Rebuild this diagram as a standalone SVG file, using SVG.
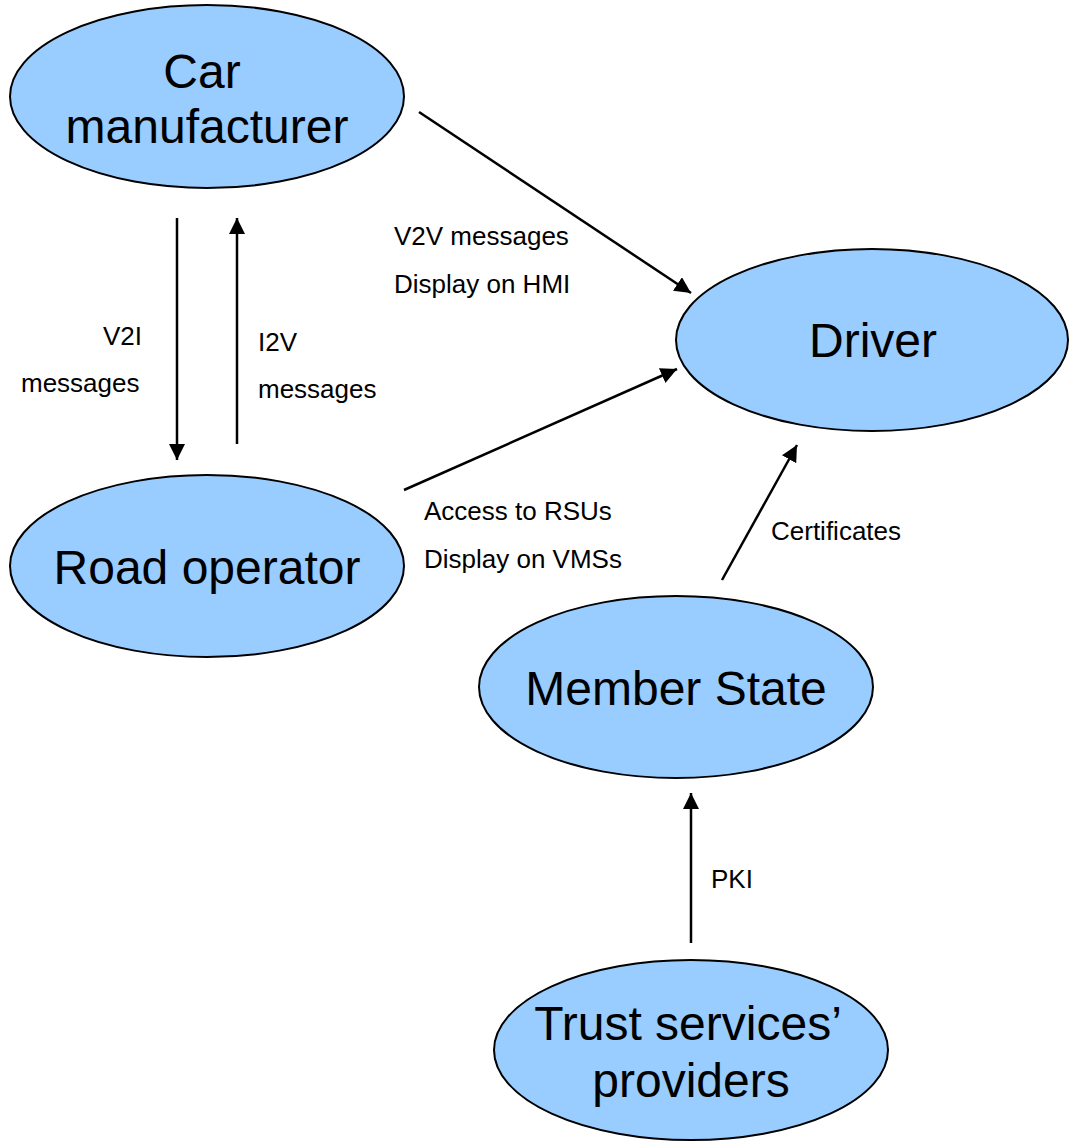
<svg xmlns="http://www.w3.org/2000/svg" width="1069" height="1144" viewBox="0 0 1069 1144">
  <style>
    .node ellipse { fill: #99CCFF; stroke: #000; stroke-width: 2; }
    .node text { font-family: "Liberation Sans", Arial, sans-serif; font-size: 48px; fill: #000; text-anchor: middle; }
    .edge line { stroke: #000; stroke-width: 2.5; marker-end: url(#arrow); }
    .label { font-family: "Liberation Sans", Arial, sans-serif; font-size: 26px; fill: #000; }
  </style>
  <defs>
    <marker id="arrow" viewBox="0 0 10 10" refX="10" refY="5" markerWidth="6.5" markerHeight="6.5" markerUnits="strokeWidth" orient="auto">
      <path d="M0,0 L10,5 L0,10 Z" fill="#000"/>
    </marker>
  </defs>
  <rect width="1069" height="1144" fill="#fff"/>

  <g id="connectors" class="edge">
    <line x1="177" y1="218" x2="177" y2="460"/>
    <line x1="237" y1="444" x2="237" y2="218"/>
    <line x1="419" y1="112" x2="691" y2="293"/>
    <line x1="404" y1="490" x2="677" y2="369"/>
    <line x1="722" y1="580" x2="797" y2="445"/>
    <line x1="691" y1="943" x2="691" y2="793"/>
  </g>

  <g id="labels" class="label">
    <text x="394" y="245">V2V messages</text>
    <text x="394" y="293">Display on HMI</text>
    <text x="142" y="345" text-anchor="end">V2I</text>
    <text x="21" y="392">messages</text>
    <text x="258" y="351">I2V</text>
    <text x="258" y="398">messages</text>
    <text x="424" y="520">Access to RSUs</text>
    <text x="424" y="568">Display on VMSs</text>
    <text x="771" y="540">Certificates</text>
    <text x="711" y="888">PKI</text>
  </g>

  <g id="car-manufacturer" class="node">
    <ellipse cx="207" cy="96.5" rx="197" ry="91.5"/>
    <text x="202" y="88">Car</text>
    <text x="207" y="143">manufacturer</text>
  </g>
  <g id="driver" class="node">
    <ellipse cx="872" cy="340" rx="196" ry="91"/>
    <text x="873" y="357">Driver</text>
  </g>
  <g id="road-operator" class="node">
    <ellipse cx="207" cy="566" rx="197" ry="91"/>
    <text x="207" y="584">Road operator</text>
  </g>
  <g id="member-state" class="node">
    <ellipse cx="676" cy="687" rx="197" ry="91"/>
    <text x="676" y="705">Member State</text>
  </g>
  <g id="trust-services-providers" class="node">
    <ellipse cx="691" cy="1050" rx="197" ry="90"/>
    <text x="688" y="1040">Trust services’</text>
    <text x="691" y="1097">providers</text>
  </g>
</svg>
